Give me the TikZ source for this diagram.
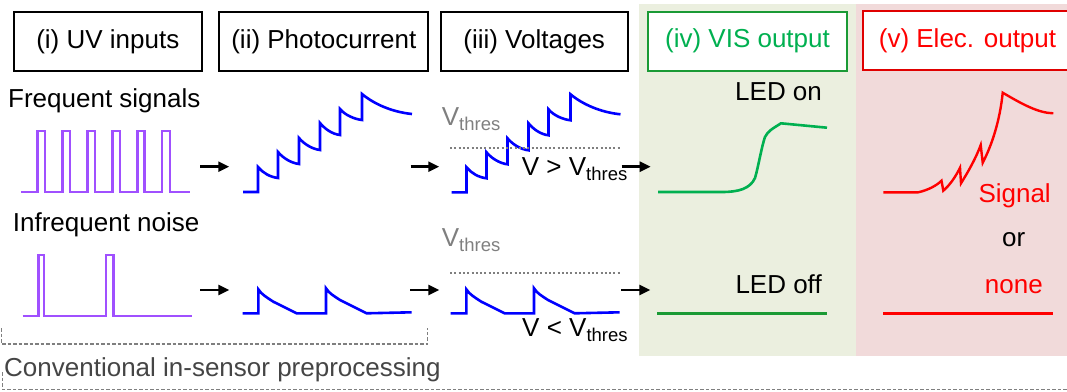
\documentclass[tikz,border=0pt]{standalone}
\usepackage{fontspec}
\setmainfont{Liberation Sans}
\usetikzlibrary{arrows.meta}
\definecolor{purp}{HTML}{A050FF}
\definecolor{wblue}{HTML}{0000FF}
\definecolor{ogreen}{HTML}{00B050}
\definecolor{dgreen}{HTML}{1A9A35}
\definecolor{bggreen}{HTML}{EBEFDF}
\definecolor{bgred}{HTML}{F1DADA}
\definecolor{wred}{HTML}{FF0000}
\definecolor{boxred}{HTML}{E00000}
\definecolor{thgray}{HTML}{7F7F7F}
\definecolor{txtgray}{HTML}{454545}
\newcommand\vthsub{{\fontsize{18.5}{20}\selectfont\raisebox{-5pt}{thres}}}
\tikzset{
  box/.style={draw, line width=2pt, minimum height=59pt, inner sep=0pt, fill=white,
    font=\fontsize{26}{30}\selectfont},
  txt/.style={font=\fontsize{26}{30}\selectfont, inner sep=0pt, anchor=base west},
  wave/.style={line width=2.6pt, line join=miter},
  flow/.style={line width=2.5pt, -{Triangle[length=11pt,width=10pt]}},
  thline/.style={thgray, line width=2pt, dash pattern=on 2pt off 2.3pt},
  bracket/.style={thgray, line width=1.3pt, dash pattern=on 3.5pt off 2pt},
  sawtooth/.pic={
    \draw[wave, wblue] (0,0) -- (15,0) -- (15,-25)
      .. controls +(5,6) and +(-8,-1) .. (35,-14) -- (35,-40)
      .. controls +(5,6) and +(-8,-1) .. (56,-28) -- (56,-54)
      .. controls +(5,6) and +(-8,-1) .. (77,-42) -- (77,-69)
      .. controls +(5,6) and +(-8,-1) .. (97,-57) -- (97,-83)
      .. controls +(5,6) and +(-8,-1) .. (119,-72) -- (119,-98)
      .. controls +(12,10) and +(-20,-2) .. (169,-78);
  },
  noisewave/.pic={
    \draw[wave, wblue] (0,0) -- (15.6,0) -- (15.6,-24)
      .. controls +(3,5) and +(-6,-4) .. (30.6,-11.6) -- (54,0) -- (83.3,0) -- (83.3,-25)
      .. controls +(3,5) and +(-6,-4) .. (97.3,-13.3) -- (124,0) -- (169,-1);
  }
}
\begin{document}
\begin{tikzpicture}[x=1pt,y=-1pt]
\useasboundingbox (0,0) rectangle (1067,391);
\clip (0,0) rectangle (1067,391);
% backgrounds
\fill[bggreen] (639,4) rectangle (856,355.5);
\fill[bgred] (856,4) rectangle (1070,355.5);
% header boxes
\node[box, minimum width=187.7pt] (b1) at (107.8,41.3) {(i) UV inputs};
\node[box, minimum width=209pt] (b2) at (323.8,41.3) {(ii) Photocurrent};
\node[box, minimum width=187pt] (b3) at (534.2,41.3) {(iii) Voltages};
\node[box, draw=dgreen, text=ogreen, minimum width=199.6pt] (b4) at (747.5,41.0) {(iv) VIS output};
\node[box, draw=boxred, text=wred, minimum width=208.4pt] (b5) at (967.5,40.7) {(v) Elec. output};
% row labels
\node[txt] (freq) at (8,107) {Frequent signals};
\node[txt] (infreq) at (12.7,231.7) {Infrequent noise};
% UV inputs
\draw[wave, purp] (21,192) -| (37.3,131) -| (45,192) -| (62.3,131) -| (70,192)
  -| (87.3,131) -| (95,192) -| (112.3,131) -| (120,192) -| (137.3,131)
  -| (144.5,192) -| (162,131) -| (170,192) -- (190,192);
\draw[wave, purp] (22.7,316) -| (38.3,255) -| (44,316) -| (106,255) -| (113.3,316) -- (191.7,316);
% photocurrent and voltages
\pic at (243,192) {sawtooth};
\pic at (451.5,192.3) {sawtooth};
\pic at (242.7,313.3) {noisewave};
\pic at (450.7,313.3) {noisewave};
% thresholds
\node[txt, text=thgray] (vt1) at (441.7,125) {V\vthsub};
\node[txt, text=thgray] (vt2) at (441.7,246.7) {V\vthsub};
\coordinate (d1a) at (450,148.3);
\coordinate (d1b) at (620,148.3);
\coordinate (d2a) at (450,272.7);
\coordinate (d2b) at (620,272.7);
\draw[thline] (d1a) -- (d1b);
\draw[thline] (d2a) -- (d2b);
\node[txt] (vgt) at (521.7,175) {V > V\vthsub};
\node[txt] (vlt) at (522,336.7) {V < V\vthsub};
% arrows
\coordinate (a1s) at (200,166.7); \coordinate (a1e) at (229.3,166.7);
\coordinate (a2s) at (410.7,166.7); \coordinate (a2e) at (439.3,166.7);
\coordinate (a3s) at (621.7,166.7); \coordinate (a3e) at (650.7,166.7);
\coordinate (a4s) at (200,290); \coordinate (a4e) at (229.3,290);
\coordinate (a5s) at (410,290); \coordinate (a5e) at (439.3,290);
\coordinate (a6s) at (621,290); \coordinate (a6e) at (650.3,290);
\draw[flow] (a1s) -- (a1e);
\draw[flow] (a2s) -- (a2e);
\draw[flow] (a3s) -- (a3e);
\draw[flow] (a4s) -- (a4e);
\draw[flow] (a5s) -- (a5e);
\draw[flow] (a6s) -- (a6e);
% VIS output
\node[txt] (ledon) at (735,100) {LED on};
\node[txt] (ledoff) at (735.3,293.3) {LED off};
\draw[line width=2.6pt, ogreen, line join=round] (658,192) -- (722,192)
  .. controls (738,192) and (750,189) .. (755,178)
  .. controls (758,168) and (762,145) .. (765,137)
  .. controls (768,131) and (772,129) .. (781,123.3) -- (827,127.7);
\draw[line width=2.6pt, dgreen] (657,313.7) -- (827,313.7);
% Elec. output
\draw[line width=2.4pt, wred, line join=miter] (883.3,192.3) -- (918.3,192.3)
  .. controls (928,190) and (936,186) .. (941.5,180.7) -- (943.3,190.7)
  .. controls (950,185) and (956,176) .. (960,167.7) -- (961,183.3)
  .. controls (968,172) and (976,158) .. (980.7,145) -- (982.7,162.7)
  .. controls (992,145) and (1000,120) .. (1002.7,92.7)
  .. controls (1022,104) and (1038,113) .. (1053.3,113.3);
\node[txt, text=wred] (sig) at (978.3,202.7) {Signal};
\node[txt] (or) at (1002,246.7) {or};
\node[txt, text=wred] (none) at (984.7,293.3) {none};
\draw[line width=2.6pt, wred] (883.3,313.5) -- (1052.7,313.5);
% conventional preprocessing bracket
\coordinate (br1) at (1.7,328);
\coordinate (br2) at (427.7,328);
\draw[bracket] (br1) -- (1.7,344) -- (427.7,344) -- (br2);
\node[txt, text=txtgray] (conv) at (4,376.7) {Conventional in-sensor preprocessing};
\coordinate (bb1) at (2.7,372);
\coordinate (bb2) at (1070,389.3);
\draw[bracket] (bb1) |- (bb2);
\end{tikzpicture}
\end{document}
